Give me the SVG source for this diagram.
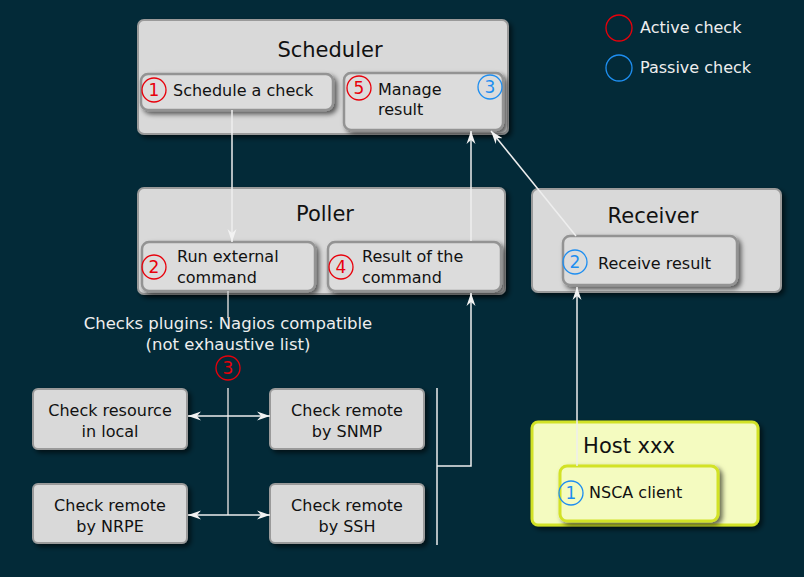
<svg xmlns="http://www.w3.org/2000/svg" width="804" height="577" viewBox="0 0 804 577">
<defs>
<filter id="sh" x="-10%" y="-20%" width="130%" height="150%">
<feDropShadow dx="3" dy="3" stdDeviation="2.5" flood-color="#000" flood-opacity="0.6"/>
</filter>
<marker id="ah" viewBox="-13 -5 13 10" refX="0" refY="0" markerWidth="13" markerHeight="10" markerUnits="userSpaceOnUse" orient="auto-start-reverse">
<path d="M0,0 L-13,-4.5 L-9,0 L-13,4.5 Z" fill="#f2f2f2"/>
</marker>
</defs>
<style>
.bg{fill:#032a38}
.box{fill:#d9d9d9;stroke:#9a9a9a;stroke-width:2;filter:url(#sh)}
.inner{fill:#dcdcdc;stroke:#939393;stroke-width:2.5;filter:url(#sh)}
.hbox{fill:#f4fbc0;stroke:#d2e227;stroke-width:3;filter:url(#sh)}
.t{font-family:"DejaVu Sans",Verdana,sans-serif;font-size:16px;fill:#111}
.title{font-family:"DejaVu Sans",Verdana,sans-serif;font-size:21px;fill:#111;text-anchor:middle}
.w{font-family:"DejaVu Sans",Verdana,sans-serif;font-size:16px;fill:#eeeeee}
.wl{font-family:"DejaVu Sans",Verdana,sans-serif;font-size:16.5px;fill:#eeeeee;text-anchor:middle}
.c{text-anchor:middle}
.red{fill:none;stroke:#e8000b;stroke-width:1.3}
.blue{fill:none;stroke:#1e8ef0;stroke-width:1.3}
.nr{font-family:"DejaVu Sans",Verdana,sans-serif;font-size:17px;fill:#e8000b;text-anchor:middle}
.nb{font-family:"DejaVu Sans",Verdana,sans-serif;font-size:17px;fill:#1e8ef0;text-anchor:middle}
.ln{fill:none;stroke:#eeeeee;stroke-width:1.5}
.ln2{fill:none;stroke:#d0d0d0;stroke-width:1.5}
</style>
<rect class="bg" x="0" y="0" width="804" height="577"/>

<g id="legend">
<circle class="red" cx="619" cy="28" r="13"/>
<text class="w" x="640" y="33">Active check</text>
<circle class="blue" cx="619" cy="68" r="13"/>
<text class="w" x="640" y="73">Passive check</text>
</g>

<g id="scheduler">
<rect class="box" x="138" y="20" width="370" height="114" rx="6"/>
<text class="title" x="330" y="57">Scheduler</text>
</g>
<g id="schedule-check">
<rect class="inner" x="141" y="74" width="192" height="36" rx="7"/>
<circle class="red" cx="154" cy="90" r="12"/>
<text class="nr" x="154" y="96">1</text>
<text class="t" x="173" y="96">Schedule a check</text>
</g>
<g id="manage-result">
<rect class="inner" x="344" y="73" width="159" height="57" rx="7"/>
<circle class="red" cx="359" cy="88" r="12"/>
<text class="nr" x="359" y="94">5</text>
<circle class="blue" cx="490" cy="87" r="12"/>
<text class="nb" x="490" y="93">3</text>
<text class="t" x="378" y="95">Manage</text>
<text class="t" x="378" y="115">result</text>
</g>

<g id="poller">
<rect class="box" x="138" y="188" width="367" height="106" rx="6"/>
<text class="title" x="325" y="221">Poller</text>
</g>
<g id="run-command">
<rect class="inner" x="142" y="242" width="173" height="49" rx="7"/>
<circle class="red" cx="154" cy="267" r="12"/>
<text class="nr" x="154" y="273">2</text>
<text class="t" x="177" y="262">Run external</text>
<text class="t" x="177" y="283">command</text>
</g>
<g id="result-command">
<rect class="inner" x="328" y="242" width="173" height="49" rx="7"/>
<circle class="red" cx="341" cy="267" r="12"/>
<text class="nr" x="341" y="273">4</text>
<text class="t" x="362" y="262">Result of the</text>
<text class="t" x="362" y="283">command</text>
</g>

<g id="receiver">
<rect class="box" x="532" y="189" width="249" height="103" rx="6"/>
<text class="title" x="653" y="223">Receiver</text>
</g>
<g id="receive-result">
<rect class="inner" x="563" y="236" width="174" height="49" rx="7"/>
<circle class="blue" cx="575" cy="262" r="12"/>
<text class="nb" x="575" y="268">2</text>
<text class="t" x="598" y="269">Receive result</text>
</g>

<g id="host">
<rect class="hbox" x="532" y="422" width="226" height="103" rx="6"/>
<text class="title" x="629" y="453">Host xxx</text>
</g>
<g id="nsca-client">
<rect class="hbox" x="560" y="466" width="158" height="55" rx="7"/>
<circle class="blue" cx="571" cy="493" r="12"/>
<text class="nb" x="571" y="499">1</text>
<text class="t" x="589" y="498">NSCA client</text>
</g>

<g id="plugins-label">
<text class="wl" x="228" y="329">Checks plugins: Nagios compatible</text>
<text class="wl" x="228" y="350">(not exhaustive list)</text>
<circle class="red" cx="228" cy="368" r="12"/>
<text class="nr" x="228" y="374">3</text>
</g>

<g id="check-local">
<rect class="box" x="33" y="389" width="154" height="60" rx="5"/>
<text class="t c" x="110" y="416">Check resource</text>
<text class="t c" x="110" y="437">in local</text>
</g>
<g id="check-snmp">
<rect class="box" x="270" y="389" width="154" height="60" rx="5"/>
<text class="t c" x="347" y="416">Check remote</text>
<text class="t c" x="347" y="437">by SNMP</text>
</g>
<g id="check-nrpe">
<rect class="box" x="33" y="484" width="154" height="59" rx="5"/>
<text class="t c" x="110" y="511">Check remote</text>
<text class="t c" x="110" y="532">by NRPE</text>
</g>
<g id="check-ssh">
<rect class="box" x="270" y="484" width="154" height="59" rx="5"/>
<text class="t c" x="347" y="511">Check remote</text>
<text class="t c" x="347" y="532">by SSH</text>
</g>

<g id="connectors">
<path class="ln" d="M232,110 L232,242" marker-end="url(#ah)"/>
<path class="ln" d="M471,241 L471,131" marker-end="url(#ah)"/>
<path class="ln" d="M576,236 L491,131" marker-end="url(#ah)"/>
<path class="ln" d="M577,466 L577,287" marker-end="url(#ah)"/>
<path class="ln2" d="M228,291 L228,318"/>
<path class="ln2" d="M228,388 L228,515"/>
<path class="ln" d="M188,416 L270,416" marker-start="url(#ah)" marker-end="url(#ah)"/>
<path class="ln" d="M188,515 L270,515" marker-start="url(#ah)" marker-end="url(#ah)"/>
<path class="ln" d="M437,388 L437,545"/>
<path class="ln" d="M437,466 L471,466 L471,293" marker-end="url(#ah)"/>
</g>
</svg>
